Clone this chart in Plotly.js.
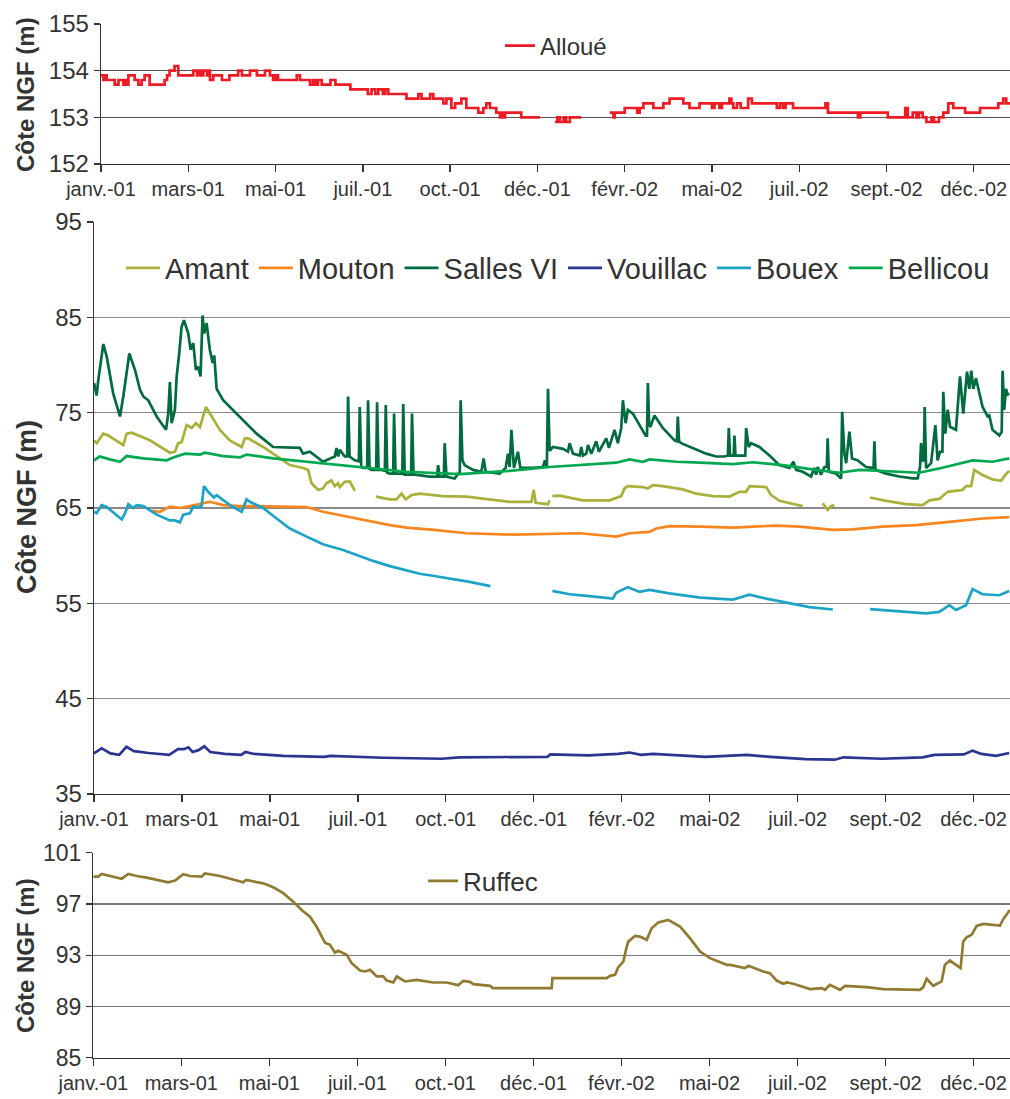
<!DOCTYPE html>
<html><head><meta charset="utf-8">
<script src="https://cdn.plot.ly/plotly-3.0.1.min.js"></script>
<style>html,body{margin:0;padding:0;background:#fff}#chart{width:1010px;height:1099px}</style>
</head><body><div id="chart"></div>
<script>
// x = days since 1 Jan 2001
const tickDays=[0,70,140,210,280,350,420,490,560,630,700];
const tickLabels=['janv.-01','mars-01','mai-01','juil.-01','oct.-01','déc.-01','févr.-02','mai-02','juil.-02','sept.-02','déc.-02'];

const allouDays=[0,2,3,4.5,11,14,18,19,20,22, 27,30,32.6,35,39,51,53,55,59,62, 74,77,79,80.5,82,85,86,87.4,90,97, 103,110,113,119.5,125,131.5,135.5,138,140,142, 157,159.6,167.6,170,172,174,177,184,188,200, 214,217,220,222.4,226,228,230.4,245,254.5,257, 264,266.5,274.5,277,281,284,289,293,302.6,306.6, 309,312,317,320,322,323,324,337,352,353, 364,366,368,371,373,376,385,386,408,411, 412,420,430,432,435,443,451,456,467,472, 480,490,492,496,498,504,505.5,507,510,513, 519,522,542,544.5,547,549,555,581,583,607, 609,631,645,647,651,654,656,659,662,666, 668,672,675.5,679.5,683.5,693,705,719.6,723.6,726, 729];
const allouVals=[153.9,153.8,153.9,153.8,153.7,153.8,153.7,153.8,153.7,153.9, 153.8,153.7,153.8,153.9,153.7,153.8,153.9,154.0,154.1,153.9, 154.0,153.9,154.0,153.9,154.0,153.9,154.0,153.8,153.9,153.8, 153.9,154.0,153.9,154.0,153.9,154.0,153.9,153.8,153.9,153.8, 153.9,153.8,153.7,153.8,153.7,153.8,153.7,153.8,153.7,153.6, 153.5,153.6,153.5,153.6,153.5,153.6,153.5,153.4,153.5,153.4, 153.5,153.4,153.3,153.4,153.2,153.3,153.4,153.2,153.1,153.2, 153.3,153.2,153.1,153.0,153.1,153.0,153.1,153.0,153.0,null, 152.9,153.0,152.9,153.0,152.9,153.0,153.0,null,153.1,153.0, 153.1,153.2,153.1,153.2,153.3,153.2,153.3,153.4,153.3,153.2, 153.3,153.2,153.3,153.2,153.3,153.4,153.3,153.2,153.3,153.2, 153.4,153.3,153.2,153.3,153.2,153.3,153.2,153.3,153.1,153.0, 153.1,153.0,153.2,153.0,153.1,153.0,153.1,153.0,152.9,153.0, 152.9,153.0,153.1,153.3,153.2,153.1,153.2,153.3,153.4,153.3, 153.3];

const amantDays=[0,2.1,7.4,11.4,23.3,26.0,30.0,44.5,60.4,64.4, 67.0,69.7,73.7,77.7,81.1,84.3,89.1,92.2,100.2,108.1, 117.5,120.1,122.7,134.6,145.3,155.9,166.4,170.4,173.1,178.4, 182.3,185.0,189.0,191.6,194.3,195.6,199.6,203.6,207.6,215, 224.3,235.4,240.7,244.7,248.1,252.6,259.2,277.8,296.4,314.9, 330.8,348.1,349.9,351.5,361.3,362.6,363.7,364.8,370.6,389.1, 410.3,419.6,422.2,424.9,436.8,440.8,444.8,452.7,468.6,479.3, 492.5,505.8,511.1,513.7,519.0,521.7,535.0,538.9,545.5,556.1, 564.0,570,579.9,583.9,586.5,589.2,600,617.6,630.4,646.3, 659.5,664.8,672.7,679.4,691.3,694.0,698.0,700.6,707.2,715.1, 721.8,725.8,728.4];
const amantVals=[72.1,71.8,72.8,72.6,71.6,72.8,72.9,72.1,70.8,70.9, 71.8,71.9,73.7,73.4,73.9,73.5,75.6,74.9,73.2,72.1, 71.4,72.3,72.3,71.4,70.4,69.5,69.2,69.0,67.6,66.9, 67.05,67.6,67.9,67.3,67.6,67.2,67.75,67.8,66.8,null, 66.2,65.9,65.9,66.5,65.9,66.35,66.5,66.25,66.2,65.9, 65.65,65.65,66.9,65.55,65.4,65.8,null,66.25,66.3,65.8, 65.8,66.25,67.05,67.3,67.2,67.05,67.4,67.3,66.95,66.5, 66.25,66.2,66.5,66.7,66.7,67.3,67.2,66.35,65.75,65.4, 65.2,null,65.5,64.8,65.2,65.3,null,66.1,65.75,65.4, 65.3,65.8,65.95,66.7,66.9,67.3,67.3,69.0,68.45,68.0, 67.85,68.55,68.9];

const moutonDays=[45.9,52.5,60.4,68.4,76.3,86.8,92.2,102.8,116.1,129.4, 142.6,169.2,182.3,208.9,235.4,248.7,259.2,270.5,296.4,334.1, 386.5,415.6,426.2,442.1,447.5,458.0,482.4,508.4,542.8,561.4, 587.9,603.8,627.7,654.2,680.7,707.2,728.4];
const moutonVals=[64.7,64.6,65.15,65.0,65.2,65.55,65.65,65.3,65.2,65.2, 65.15,65.1,64.6,63.9,63.2,62.95,62.85,62.7,62.35,62.2, 62.35,62.0,62.35,62.5,62.85,63.1,63.05,62.95,63.15,63.05, 62.7,62.75,63.05,63.2,63.55,63.9,64.05];

const sallesDays=[0,2.1,3.4,7.4,10.1,15.3,20.7,23.3,28.1,32.6, 36.6,39.2,43.2,49.9,57.3,59.1,60.4,61.8,64.4,65.8, 67.8,69.7,71.6,75.0,76.9,79.0,81.1,82.9,84.8,86.4, 87.7,89.6,92.2,94.4,95.7,97.6,102.8,116.1,129.4,142.6, 155.9,163.8,166.4,171.8,182.3,185.0,191.6,193.0,194.3,195.6, 199.6,201.5,202.2,203.4,207.6,210.8,211.5,212.7,214.2,217.4, 218.1,219.3,220.8,224.6,225.3,226.5,228.8,231.5,232.2,233.4, 235.4,238.1,238.8,240.0,242.0,245.4,246.1,247.3,248.7,252.4, 253.1,254.3,255.3,267.2,273.1,273.8,275.1,278.4,279.1,280.5, 287.1,289.7,291.1,291.8,293.2,295.0,301.6,308.3,310.1,311.7, 322.9,327.6,329.5,330.8,332.2,334.2,337.4,339.3,349.3,357.3, 358.9,360.4,361.3,362.6,365.2,373.2,377.2,378.5,381.2,386.5, 387.8,389.1,391.8,393.1,395.8,399.7,401.8,407.7,409.8,414.3, 416.9,419.6,420.9,423.1,424.9,428.9,434.2,439.0,440.1,440.8, 441.8,442.7,446.1,452.7,462.0,463.9,464.6,465.6,467.3,476.6, 487.2,495.2,501.8,504.5,505.2,506.2,509.1,509.7,510.5,516.3, 518.3,519.0,521.1,523.0,529.6,537.6,545.5,553.5,556.6,558.8, 564.0,570.7,573.3,574.7,575.9,578.6,581.3,583.2,583.9,584.8, 590.6,594.6,595.4,597.2,598.6,601.2,603.3,607.8,614.5,619.7, 620.4,621.1,621.9,630.4,640.9,651.5,655.5,657.4,658.2,659.5, 660.4,661.1,662.2,666.2,669.6,671.4,673.3,675.2,675.9,677.5, 679.4,681.3,686.0,689.2,691.8,694.8,696.6,698.2,699.8,701.9, 707.2,711.2,712.5,715.1,720.5,722.4,723.1,724.4,725.8,727.1, 728.4];
const sallesVals=[78.1,76.8,78.4,82.2,80.9,77.0,74.6,76.7,81.2,79.5, 77.4,76.7,76.3,74.6,73.2,74.9,78.2,73.9,75.3,78.8, 81.2,84.0,84.7,83.3,81.6,82.3,79.5,79.8,78.8,85.2, 83.3,84.4,81.6,80.2,81.0,77.5,76.3,74.6,72.8,71.4, 71.3,71.3,70.7,70.9,69.85,70.0,70.4,71.3,70.4,71.1, 70.4,70.4,76.7,70.4,70.0,69.9,75.6,69.3,69.2,69.2, 76.3,69.1,69.0,69.0,76.1,69.0,69.0,68.9,75.8,68.7, 68.6,68.6,74.9,68.6,68.6,68.6,75.9,68.5,68.5,68.5, 74.9,68.5,68.5,68.3,68.3,69.5,68.3,68.3,71.8,68.3, 68.1,68.6,68.6,76.3,70.0,69.5,69.0,68.8,70.2,68.8, 68.6,69.2,70.7,69.3,73.2,69.2,70.9,69.2,69.2,69.3, 70.0,69.3,77.5,71.0,71.4,71.2,70.9,71.8,70.7,70.5, 71.4,70.5,70.7,71.6,70.7,72.0,70.9,72.3,71.3,73.2, 71.8,73.4,76.3,73.9,75.3,74.9,73.7,72.6,72.6,78.1, 73.8,73.5,74.7,73.4,72.1,72.0,74.6,72.0,71.8,71.3, 70.7,70.4,70.4,70.5,73.4,70.5,70.5,72.6,70.5,70.5, 70.5,73.4,71.4,71.8,71.4,70.5,69.5,69.2,69.85,69.0, 68.8,68.3,69.2,68.5,69.3,68.5,69.3,69.3,72.3,68.8, 68.6,68.1,75.1,70.7,69.7,73.0,70.2,70.0,69.3,69.2, 69.2,72.0,69.0,68.6,68.3,68.1,68.1,69.3,71.8,70.0, 70.0,75.6,69.2,69.7,73.7,70.0,70.9,70.9,77.2,72.8, 75.3,73.5,73.2,78.8,74.9,79.3,77.5,79.4,77.5,78.6, 75.6,74.6,74.7,73.2,72.6,73.0,79.4,75.3,77.5,76.9, 77.0];

const vouillacDays=[0,6.1,13.1,20.1,25.8,31.8,43.5,59.8,66.8,71.5, 75.2,78.5,83.2,87.8,92.5,104.2,117.2,120.5,127.5,150.8, 183.4,188.1,230.1,276.8,290.8,323.5,360.8,363.2,393.5,416.9, 426.2,435.5,444.9,486.8,519.5,538.2,566.2,589.5,596.5,626.9, 659.5,668.9,692.2,699.2,706.2,717.9,728.4];
const vouillacVals=[39.26,39.8,39.26,39.1,39.95,39.5,39.3,39.1,39.7,39.7, 39.9,39.4,39.6,40.0,39.4,39.2,39.1,39.4,39.2,39.0, 38.9,39.0,38.8,38.7,38.85,38.9,38.9,39.15,39.05,39.2, 39.35,39.1,39.2,38.9,39.1,38.9,38.65,38.6,38.85,38.7, 38.85,39.1,39.15,39.55,39.2,39.0,39.3];

const bouexDays=[0,2.1,6.1,10.1,22.1,24.7,27.3,31.3,34.0,39.2, 49.9,60.4,64.4,68.4,71.0,76.3,79.0,81.6,85.6,87.5, 90.9,95.4,97.6,108.1,117.5,121.4,124.1,134.6,145.3,155.9, 169.2,182.3,198.2,208.9,222.1,235.4,251.3,259.2,267.2,283.1, 298.9,315.5,340,364.8,378.5,394.4,412.9,415.6,424.9,434.2, 442.1,458.0,482.4,508.4,521.7,535.0,550.9,569.4,588.0,600, 617.6,640.9,662.2,672.7,680.7,686.0,694.0,699.2,707.2,720.5, 728.4];
const bouexVals=[64.6,64.45,65.3,65.1,63.8,64.45,65.4,65.0,65.3,65.2, 64.3,63.7,63.7,63.5,64.3,64.45,65.15,65.05,65.2,67.3, 66.7,66.1,66.35,65.3,64.6,65.9,65.65,65.0,63.9,62.85, 62.0,61.2,60.6,60.05,59.45,58.9,58.4,58.1,57.95,57.6, 57.25,56.8,null,56.3,55.95,55.75,55.5,56.1,56.7,56.2, 56.4,56.05,55.6,55.4,55.9,55.5,55.05,54.6,54.35,null, 54.4,54.2,53.95,54.1,54.8,54.3,54.8,56.5,55.95,55.85, 56.3];

const bellicouDays=[0,4.5,12.7,20.7,26.0,39.2,57.8,63.1,72.4,84.3, 88.3,102.8,116.1,121.4,142.6,169.2,195.6,222.1,248.7,291.1, 330.8,362.6,389.1,415.6,426.2,436.8,442.1,463.3,482.4,508.4, 524.3,548.1,574.7,593.2,609.1,635.6,656.8,672.7,691.3,699.2, 715.1,724.4,728.4];
const bellicouVals=[70.0,70.4,70.1,69.85,70.45,70.2,70.0,70.3,70.7,70.6, 70.8,70.45,70.3,70.6,70.2,69.85,69.5,69.15,68.8,68.55, 68.9,69.3,69.5,69.75,70.1,69.85,70.1,69.85,69.75,69.6, 69.8,69.5,69.0,68.7,69.0,68.8,68.7,69.15,69.75,70.0, 69.85,70.1,70.2];

const ruffecDays=[0,4.0,6.7,13.3,22.6,27.8,34.5,42.5,59.6,65.0, 71.6,76.9,86.2,88.8,100.8,119.3,121.4,135.2,143.1,151.1, 159.0,165.7,172.3,177.6,184.2,188.2,192.2,194.8,201.5,205.5, 212.1,216.1,220.0,225.4,230.6,233.3,238.6,241.3,247.9,257.2, 270.4,281.0,290.2,294.2,299.6,302.2,315.5,317.6,364.5,365.1, 408.3,410.9,414.9,417.5,421.5,423.6,425.4,430.8,434.7,440.1, 444.0,449.3,457.2,466.6,474.5,482.5,490.4,503.7,506.3,518.2, 520.9,532.8,538.1,543.4,548.7,551.4,556.6,569.9,579.2,581.9, 585.8,593.8,597.8,615.0,628.2,657.4,660.0,662.7,668.0,674.6, 677.3,681.2,686.6,689.7,691.8,694.5,698.5,702.5,707.7,721.0, 723.6,728.9];
const ruffecVals=[99.13,99.13,99.34,99.2,98.97,99.34,99.18,99.05,98.69,98.82, 99.32,99.18,99.13,99.39,99.18,98.69,98.87,98.61,98.3,97.84, 97.18,96.53,96.01,95.23,93.98,93.81,93.2,93.34,93.03,92.38, 91.8,91.73,91.86,91.34,91.34,91.02,90.87,91.34,90.95,91.08, 90.87,90.87,90.66,91.0,90.92,90.74,90.61,90.43,90.43,91.21, 91.21,91.39,91.47,92.07,92.5,93.42,94.06,94.5,94.45,94.2, 95.1,95.55,95.76,95.23,94.33,93.28,92.77,92.25,92.25,91.99, 92.17,91.73,91.6,91.02,90.77,90.87,90.77,90.35,90.43,90.3, 90.69,90.3,90.61,90.51,90.35,90.3,90.51,91.16,90.61,90.95, 92.25,92.58,92.17,91.99,94.06,94.4,94.59,95.29,95.44,95.31, 95.81,96.53];

const FONT='Liberation Sans, Arial, Helvetica, sans-serif';
const TXT='#333333';
function tr(name,days,vals,color,xa,ya,leg,shape){
  return {type:'scatter',mode:'lines',name:name,x:days,y:vals,xaxis:xa,yaxis:ya,legend:leg,
    line:{color:color,width:2.7,shape:shape||'linear'},connectgaps:false,hoverinfo:'skip'};
}
const data=[
  tr('Alloué',allouDays,allouVals,'#ED1C24','x','y','legend','hv'),
  tr('Amant',amantDays,amantVals,'#AAB13A','x2','y2','legend2'),
  tr('Mouton',moutonDays,moutonVals,'#F7861F','x2','y2','legend2'),
  tr('Salles VI',sallesDays,sallesVals,'#006B3E','x2','y2','legend2'),
  tr('Vouillac',vouillacDays,vouillacVals,'#2B3590','x2','y2','legend2'),
  tr('Bouex',bouexDays,bouexVals,'#1CA3C6','x2','y2','legend2'),
  tr('Bellicou',bellicouDays,bellicouVals,'#00A950','x2','y2','legend2'),
  tr('Ruffec',ruffecDays,ruffecVals,'#917B32','x3','y3','legend3')
];
const W=1010,H=1099;
function xax(l,anchor){return {domain:[l/W,1],anchor:anchor,type:'linear',range:[0,729],tickmode:'array',tickvals:tickDays,ticktext:tickLabels,
  showgrid:false,zeroline:false,showline:true,linecolor:'#333',linewidth:1.3,ticks:'outside',ticklen:7,tickwidth:1.3,tickcolor:'#333',
  tickfont:{family:FONT,size:20,color:TXT},fixedrange:true};}
function yax(top,bot,anchor,range,dtick,fs,gc,gw){return {domain:[1-bot/H,1-top/H],anchor:anchor,range:range,tick0:range[0],dtick:dtick,
  showgrid:true,gridcolor:gc,gridwidth:gw,zeroline:false,showline:true,linecolor:'#333',linewidth:1.3,ticks:'outside',ticklen:6,tickwidth:1.3,tickcolor:'#333',
  tickfont:{family:FONT,size:fs,color:TXT},fixedrange:true};}
function ytitle(x,y,size){return {xref:'paper',yref:'paper',x:x/W,y:1-y/H,xanchor:'center',yanchor:'middle',textangle:-90,showarrow:false,
  text:'<b>Côte NGF (m)</b>',font:{family:FONT,size:size,color:TXT}};}
const layout={
  width:W,height:H,margin:{l:0,r:0,t:0,b:0},paper_bgcolor:'#fff',plot_bgcolor:'#fff',
  font:{family:FONT,color:TXT},
  xaxis:xax(101,'y'), yaxis:yax(24,164,'x',[152,155],1,24,'#555',1),
  xaxis2:xax(94,'y2'), yaxis2:yax(222,794,'x2',[35,95],10,24,'#8a8a8a',1.6),
  xaxis3:xax(93.3,'y3'), yaxis3:yax(852.7,1057.7,'x3',[85,101],4,23,'#777',1.2),
  legend:{x:500/W,y:1-46/H,xanchor:'left',yanchor:'middle',orientation:'h',bgcolor:'rgba(0,0,0,0)',font:{family:FONT,size:24,color:TXT}},
  legend2:{x:121/W,y:1-268/H,xanchor:'left',yanchor:'middle',orientation:'h',bgcolor:'rgba(0,0,0,0)',font:{family:FONT,size:29,color:TXT},itemwidth:34},
  legend3:{x:423/W,y:1-881/H,xanchor:'left',yanchor:'middle',orientation:'h',bgcolor:'rgba(0,0,0,0)',font:{family:FONT,size:26,color:TXT}},
  annotations:[ytitle(25,95,24),ytitle(27,507,27),ytitle(25,956,24)],
  showlegend:true
};
Plotly.newPlot('chart',data,layout,{displayModeBar:false,staticPlot:true});
</script></body></html>
